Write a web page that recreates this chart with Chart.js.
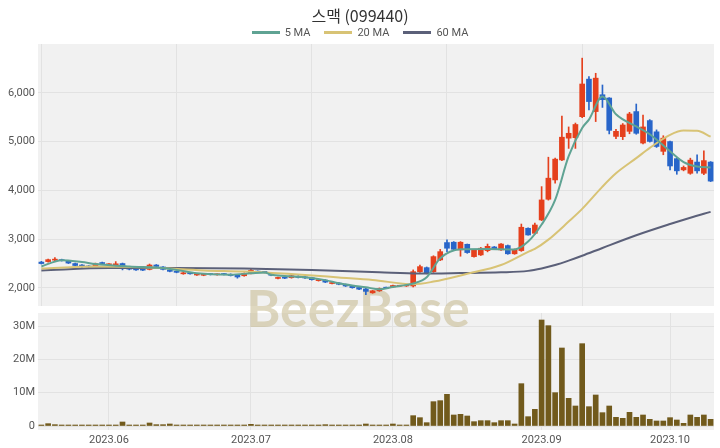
<!DOCTYPE html>
<html>
<head>
<meta charset="utf-8">
<script src="https://cdn.jsdelivr.net/npm/chart.js@4.4.0/dist/chart.umd.min.js"></script>
<style>
  html, body { margin: 0; padding: 0; background: #fff; }
  #wrap { position: relative; width: 720px; height: 448px; overflow: hidden; }
  #title { position: absolute; left: 0; top: 3px; width: 720px; height: 22px; line-height: 22px;
           text-align: center; font: 16px "Noto Sans CJK KR", "Noto Sans", sans-serif; color: #333; }
  #legend { position: absolute; left: 0; top: 25px; width: 720px; height: 14px; display: flex;
            justify-content: center; align-items: center; font: 11px Roboto, "Noto Sans", sans-serif; color: #555; }
  #legend .item { display: flex; align-items: center; margin: 0 7px; }
  #legend .sw { width: 28px; height: 3px; margin-right: 5px; }
  #priceChart { position: absolute; left: 0; top: 0; }
  #volChart { position: absolute; left: 0; top: 310px; }
</style>
</head>
<body>
<div id="wrap">
  <canvas id="priceChart" width="720" height="310"></canvas>
  <canvas id="volChart" width="720" height="138"></canvas>
  <div id="title">스맥 (099440)</div>
  <div id="legend"></div>
</div>
<script>
const UP = '#e5401d';
const DOWN = '#2865c9';
const VOL = '#715a1c';
const FONT = 'Roboto, "Noto Sans", sans-serif';

// month labels sit on the first trading day of each month
const monthIdx = [10, 31, 52, 74, 93];
const monthLabels = ['2023.06', '2023.07', '2023.08', '2023.09', '2023.10'];
const priceTicks = [2000, 3000, 4000, 5000, 6000];
const volTicks = [0, 10, 20, 30];

const opens = [2530, 2540, 2570, 2580, 2550, 2500, 2470, 2450, 2450, 2520,
  2475, 2470, 2500, 2400, 2390, 2385, 2380, 2470, 2430, 2370,
  2340, 2290, 2310, 2265, 2260, 2290, 2270, 2290, 2280, 2260,
  2250, 2300, 2340, 2330, 2300, 2195, 2220, 2210, 2240, 2225,
  2210, 2150, 2160, 2090, 2100, 2070, 2040, 2010, 1980, 1900,
  1940, 2010, 2020, 2035, 2040, 2040, 2334, 2416, 2334, 2574,
  2930, 2937, 2780, 2895, 2642, 2677, 2765, 2840, 2780, 2868,
  2700, 2765, 3223, 3120, 3394, 3818, 4214, 4624, 5070, 5080,
  5510, 6280, 5615, 5960, 5893, 5106, 5100, 5210, 5615, 4970,
  5430, 5200, 4800, 5000, 4650, 4420, 4350, 4580, 4350, 4580];
const highs = [2545, 2590, 2620, 2590, 2560, 2510, 2480, 2460, 2510, 2530,
  2500, 2540, 2510, 2410, 2400, 2395, 2490, 2480, 2440, 2380,
  2350, 2320, 2320, 2295, 2290, 2300, 2290, 2300, 2290, 2270,
  2310, 2400, 2350, 2340, 2310, 2225, 2230, 2280, 2250, 2235,
  2220, 2180, 2170, 2120, 2110, 2080, 2050, 2020, 1990, 1950,
  2000, 2020, 2060, 2055, 2060, 2370, 2470, 2430, 2660, 2790,
  2985, 2950, 2950, 2900, 2790, 2830, 2900, 2850, 2910, 2880,
  2800, 3310, 3230, 3330, 4077, 4680, 4660, 5525, 5300, 5380,
  6710, 6330, 6400, 6160, 5900, 5250, 5370, 5600, 5770, 5545,
  5450, 5240, 5120, 5010, 4660, 4500, 4660, 4727, 4810, 4590];
const lows = [2490, 2530, 2560, 2550, 2500, 2450, 2420, 2420, 2440, 2490,
  2460, 2460, 2370, 2370, 2360, 2355, 2370, 2430, 2370, 2330,
  2310, 2280, 2280, 2255, 2250, 2265, 2260, 2265, 2245, 2200,
  2240, 2290, 2310, 2305, 2250, 2185, 2190, 2200, 2205, 2195,
  2160, 2140, 2110, 2080, 2065, 2030, 1995, 1965, 1860, 1890,
  1930, 1985, 2010, 2025, 2030, 2020, 2320, 2290, 2320, 2560,
  2745, 2780, 2650, 2710, 2630, 2665, 2740, 2790, 2770, 2690,
  2690, 2750, 3080, 3100, 3380, 3800, 4146, 4610, 4860, 4860,
  5490, 5650, 5410, 5700, 5157, 5060, 5040, 5160, 5150, 4950,
  4990, 4880, 4730, 4420, 4330, 4400, 4330, 4350, 4320, 4180];
const closes = [2500, 2580, 2590, 2560, 2510, 2460, 2445, 2430, 2495, 2500,
  2485, 2495, 2420, 2385, 2370, 2365, 2470, 2440, 2380, 2340,
  2320, 2310, 2290, 2285, 2280, 2275, 2280, 2275, 2255, 2225,
  2300, 2360, 2325, 2320, 2260, 2215, 2200, 2250, 2215, 2205,
  2170, 2170, 2120, 2110, 2075, 2040, 2005, 1975, 1930, 1940,
  1990, 1995, 2050, 2045, 2050, 2334, 2437, 2300, 2642, 2744,
  2814, 2793, 2937, 2725, 2780, 2814, 2853, 2800, 2900, 2700,
  2790, 3244, 3086, 3290, 3804, 4250, 4640, 5090, 5170, 5350,
  6180, 5820, 6300, 5860, 5230, 5210, 5340, 5566, 5170, 5300,
  5003, 4900, 5070, 4500, 4400, 4470, 4620, 4400, 4610, 4190];
// volume in millions of shares
const volumes = [0.3, 0.7, 0.4, 0.2, 0.2, 0.15, 0.15, 0.15, 0.15, 0.2,
  0.15, 0.2, 1.2, 0.2, 0.15, 0.2, 0.9, 0.4, 0.4, 0.6,
  0.2, 0.15, 0.15, 0.15, 0.1, 0.15, 0.1, 0.1, 0.15, 0.2,
  0.2, 0.5, 0.2, 0.15, 0.15, 0.15, 0.2, 0.15, 0.15, 0.15,
  0.15, 0.15, 0.4, 0.2, 0.15, 0.15, 0.2, 0.15, 0.6, 0.2,
  0.2, 0.3, 0.6, 0.2, 0.3, 3.1, 2.5, 1.0, 7.3, 7.6,
  9.5, 3.3, 3.5, 3.0, 1.3, 1.6, 1.6, 1.0, 1.6, 1.6,
  0.6, 12.7, 2.8, 5.0, 31.8, 30.1, 10.0, 23.4, 8.3, 6.0,
  24.7, 5.8, 9.3, 4.0, 6.0, 2.6, 2.3, 4.1, 2.6, 3.3,
  2.0, 1.5, 1.5, 2.5, 1.8, 0.8, 3.3, 2.6, 3.3, 2.0];

// moving averages: [day index, value]
const ma5 = [[0, 2440], [3, 2570], [6, 2530], [8, 2490], [13, 2440], [18, 2410], [20, 2370],
  [23, 2300], [28, 2272], [31, 2300], [33, 2318], [34, 2270], [36, 2245], [39, 2220], [42, 2160],
  [44, 2096], [46, 2050], [48, 2014], [50, 1973], [52, 2020], [53, 2041], [55, 2090], [57, 2219],
  [59, 2608], [62, 2793], [66, 2800], [70, 2790], [72, 2950], [74, 3300], [76, 3804], [78, 4700],
  [80, 5280], [81, 5450], [83, 5925], [85, 5560], [88, 5310], [90, 5150], [93, 4800], [95, 4580],
  [97, 4488], [99, 4470]];
const ma20 = [[0, 2400], [8, 2440], [16, 2420], [24, 2360], [30, 2335], [39, 2266], [44, 2215],
  [49, 2164], [55, 2075], [58, 2130], [63, 2290], [68, 2470], [72, 2740], [73, 2800], [75, 2990],
  [78, 3360], [80, 3620], [83, 4077], [85, 4350], [88, 4660], [90, 4870], [93, 5137], [95, 5225],
  [97, 5220], [99, 5100]];
const ma60 = [[0, 2360], [10, 2410], [20, 2410], [30, 2400], [40, 2370], [50, 2320], [56, 2295],
  [62, 2305], [68, 2320], [72, 2350], [74, 2400], [76, 2470], [78, 2560], [80, 2660], [83, 2820],
  [88, 3080], [93, 3310], [96, 3440], [99, 3560]];

const maSeries = [
  { label: '5 MA', pts: ma5, color: '#5fa393' },
  { label: '20 MA', pts: ma20, color: '#d8c375' },
  { label: '60 MA', pts: ma60, color: '#5b6079' }
];

const days = closes.map((_, i) => i);
const candleColors = closes.map((c, i) => c >= opens[i] ? UP : DOWN);

const plotBg = {
  id: 'plotBg',
  beforeDraw(chart) {
    const { ctx, chartArea: a } = chart;
    ctx.save();
    ctx.fillStyle = '#f1f1f1';
    ctx.fillRect(a.left, a.top, a.right - a.left, a.bottom - a.top);
    ctx.restore();
  }
};

const watermark = {
  id: 'watermark',
  beforeDatasetsDraw(chart, args, opts) {
    const ctx = chart.ctx;
    ctx.save();
    ctx.font = 'bold 52px Lato, "Open Sans", sans-serif';
    ctx.fillStyle = 'rgba(196, 184, 140, 0.55)';
    ctx.textAlign = 'center';
    ctx.textBaseline = 'alphabetic';
    ctx.fillText('BeezBase', 358, 327 - opts.offset);
    ctx.restore();
  }
};

function fixedY(width) {
  return s => { s.width = width; s.paddingTop = 0; s.paddingBottom = 0; };
}

new Chart(document.getElementById('priceChart'), {
  type: 'bar',
  data: {
    datasets: [
      ...maSeries.map(m => ({
        type: 'line', label: m.label,
        data: m.pts.map(([x, y]) => ({ x, y })),
        borderColor: m.color, backgroundColor: m.color,
        borderWidth: 2, pointRadius: 0, cubicInterpolationMode: 'monotone', order: 0
      })),
      {
        label: 'body', data: days.map(i => ({ x: i, y: [opens[i], closes[i]] })),
        backgroundColor: candleColors, barThickness: 5, minBarLength: 1, grouped: false, order: 1
      },
      {
        label: 'wick', data: days.map(i => ({ x: i, y: [lows[i], highs[i]] })),
        backgroundColor: candleColors, barThickness: 1, grouped: false, order: 2
      }
    ]
  },
  options: {
    responsive: false,
    animation: false,
    layout: { padding: { left: 0, right: 6, top: 44, bottom: 4 } },
    plugins: {
      legend: { display: false },
      tooltip: { enabled: false },
      watermark: { offset: 0 }
    },
    scales: {
      x: {
        type: 'linear', min: -0.5, max: 99.5, offset: false,
        grid: { offset: false, color: '#e2e2e2', drawTicks: false },
        border: { display: false },
        ticks: { display: false },
        afterBuildTicks: s => { s.ticks = [0, 20, 40, 60, 80].map(v => ({ value: v })); },
        afterFit: s => { s.height = 0; s.paddingLeft = 0; s.paddingRight = 0; }
      },
      y: {
        min: 1630, max: 7000,
        grid: { color: '#e2e2e2', drawTicks: false },
        border: { display: false },
        ticks: {
          padding: 3, color: '#555', font: { family: FONT, size: 11 },
          callback: v => v.toLocaleString('en-US')
        },
        afterBuildTicks: s => { s.ticks = priceTicks.map(v => ({ value: v })); },
        afterFit: fixedY(38)
      }
    }
  },
  plugins: [plotBg, watermark]
});

new Chart(document.getElementById('volChart'), {
  type: 'bar',
  data: {
    datasets: [{
      label: 'Volume', data: days.map(i => ({ x: i, y: volumes[i] })),
      backgroundColor: VOL, barThickness: 5, minBarLength: 1
    }]
  },
  options: {
    responsive: false,
    animation: false,
    layout: { padding: { left: 0, right: 6, top: 3, bottom: 0 } },
    plugins: {
      legend: { display: false },
      tooltip: { enabled: false },
      watermark: { offset: 310 }
    },
    scales: {
      x: {
        type: 'linear', min: -0.5, max: 99.5, offset: false,
        grid: { offset: false, color: '#e2e2e2', drawTicks: false },
        border: { display: false },
        ticks: {
          padding: 4, color: '#555', font: { family: FONT, size: 11 },
          autoSkip: false, maxRotation: 0,
          callback: v => monthLabels[monthIdx.indexOf(v)]
        },
        afterBuildTicks: s => { s.ticks = monthIdx.map(v => ({ value: v })); },
        afterFit: s => { s.height = 18; s.paddingLeft = 0; s.paddingRight = 0; }
      },
      y: {
        min: -1.2, max: 33.9,
        grid: { color: '#e2e2e2', drawTicks: false },
        border: { display: false },
        ticks: {
          padding: 3, color: '#555', font: { family: FONT, size: 11 },
          callback: v => v === 0 ? '0' : v + 'M'
        },
        afterBuildTicks: s => { s.ticks = volTicks.map(v => ({ value: v })); },
        afterFit: fixedY(38)
      }
    }
  },
  plugins: [plotBg, watermark]
});

// HTML legend for the moving averages
const legendEl = document.getElementById('legend');
maSeries.forEach(m => {
  const item = document.createElement('span');
  item.className = 'item';
  const sw = document.createElement('span');
  sw.className = 'sw';
  sw.style.background = m.color;
  item.appendChild(sw);
  item.appendChild(document.createTextNode(m.label));
  legendEl.appendChild(item);
});
</script>
</body>
</html>
